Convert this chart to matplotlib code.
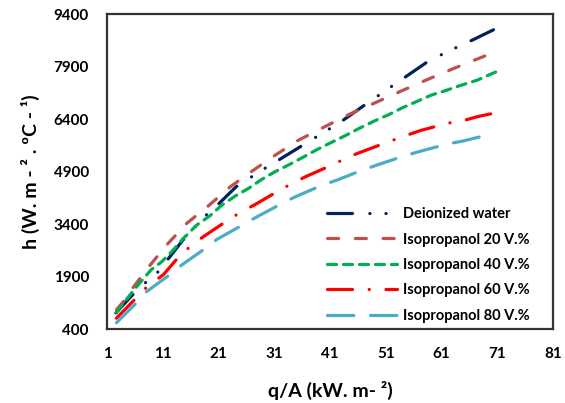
import matplotlib
matplotlib.use("Agg")
import matplotlib.pyplot as plt

plt.rcParams["font.family"] = ["Lato", "DejaVu Sans"]
plt.rcParams["font.weight"] = "bold"
plt.rcParams["lines.scale_dashes"] = False

# values
q_water = [2.6, 5.0, 7.2, 10.2, 14.5, 18.4, 20.6, 24.2, 29.1, 31.6, 35.9, 40.8,
           43.2, 47.4, 52.2, 54.6, 58.8, 64.0, 66.6, 71.1]
h_water = [860, 1280, 1630, 2040, 2920, 3600, 3910, 4470, 4970, 5210, 5630, 6110,
           6350, 6820, 7350, 7610, 8070, 8470, 8660, 9010]

q_ipa20 = [2.7, 4.2, 5.7, 8.6, 11.8, 15.3, 19.2, 23.0, 27.0, 31.2, 35.4, 39.8,
           44.4, 48.9, 53.5, 58.2, 62.8, 69.7]
h_ipa20 = [950, 1230, 1590, 2200, 2820, 3420, 3920, 4450, 4910, 5370, 5800, 6160,
           6530, 6850, 7180, 7510, 7820, 8260]

q_ipa40 = [2.7, 5.1, 6.9, 8.9, 10.8, 12.6, 14.7, 17.1, 19.5, 21.6, 24.0, 26.4,
           28.8, 31.2, 33.6, 36.3, 38.7, 41.1, 43.8, 46.2, 48.9, 51.6, 54.1,
           56.7, 59.1, 61.5, 64.2, 67.4, 71.1]
h_ipa40 = [880, 1370, 1720, 2090, 2320, 2610, 2990, 3370, 3640, 3940, 4200, 4420,
           4680, 4900, 5090, 5320, 5530, 5720, 5930, 6130, 6340, 6530, 6730,
           6910, 7080, 7200, 7350, 7510, 7770]

q_ipa60 = [2.7, 6.2, 8.0, 11.1, 13.8, 16.0, 18.3, 22.5, 24.9, 27.6, 31.8, 34.4,
           37.0, 41.7, 44.2, 46.8, 51.5, 54.3, 57.2, 62.1, 64.8, 67.5, 71.1]
h_ipa60 = [710, 1280, 1580, 1950, 2450, 2770, 3040, 3490, 3730, 3960, 4350, 4580,
           4780, 5110, 5310, 5470, 5750, 5910, 6070, 6280, 6350, 6470, 6590]

q_ipa80 = [2.7, 6.3, 8.1, 12.6, 14.4, 18.6, 20.7, 25.5, 27.6, 32.4, 34.8, 39.6,
           42.0, 46.8, 49.5, 54.4, 57.0, 62.1, 64.8, 69.7]
h_ipa80 = [580, 1150, 1470, 1990, 2230, 2700, 2960, 3390, 3580, 3990, 4180, 4510,
           4640, 4940, 5090, 5350, 5470, 5690, 5770, 5960]

labels = ["Deionized water", "Isopropanol 20 V.%", "Isopropanol 40 V.%",
          "Isopropanol 60 V.%", "Isopropanol 80 V.%"]
x_ticks = [1, 11, 21, 31, 41, 51, 61, 71, 81]
y_ticks = [400, 1900, 3400, 4900, 6400, 7900, 9400]

series = [(q_water, h_water), (q_ipa20, h_ipa20), (q_ipa40, h_ipa40),
          (q_ipa60, h_ipa60), (q_ipa80, h_ipa80)]
colors = ["#002060", "#C0504D", "#00B050", "#FF0000", "#4BACC6"]
# Excel-like dash patterns, in points (round caps add the line width)
dashes = [(0, (18, 12.5, 0.1, 11.5, 0.1, 12)),
          (0, (8, 12)),
          (0, (6.5, 5)),
          (0, (18, 12, 0.1, 12)),
          (0, (19, 12))]

fig = plt.figure(figsize=(5.65, 4.03), dpi=100)
ax = fig.add_axes([0.1894, 0.1836, 0.7894, 0.7816])

for (q, h), c, ls, lab in zip(series, colors, dashes, labels):
    ax.plot(q, h, color=c, linestyle=ls, linewidth=2.3,
            dash_capstyle="round", solid_capstyle="round", label=lab)

ax.set_xlim(1, 81)
ax.set_ylim(400, 9400)
ax.set_xticks(x_ticks)
ax.set_yticks(y_ticks)
ax.tick_params(length=0, labelsize=11)
ax.tick_params(axis="y", pad=13)
ax.tick_params(axis="x", pad=13)
for s in ax.spines.values():
    s.set_linewidth(1.6)
    s.set_color("#333333")

ax.set_xlabel("q/A (kW. m- \u00b2)", fontsize=14, fontweight="bold", labelpad=14)
ax.set_ylabel("h (W. m - \u00b2 . \u00baC - \u00b9)", fontsize=14, fontweight="bold", labelpad=10)

leg = ax.legend(loc="lower left", bbox_to_anchor=(0.493, 0.02), frameon=False,
                borderpad=0, borderaxespad=0, handlelength=4.8, handletextpad=0.41,
                labelspacing=0.78, prop={"size": 10.5, "weight": "bold"})

fig.savefig("out.png", dpi=100)
